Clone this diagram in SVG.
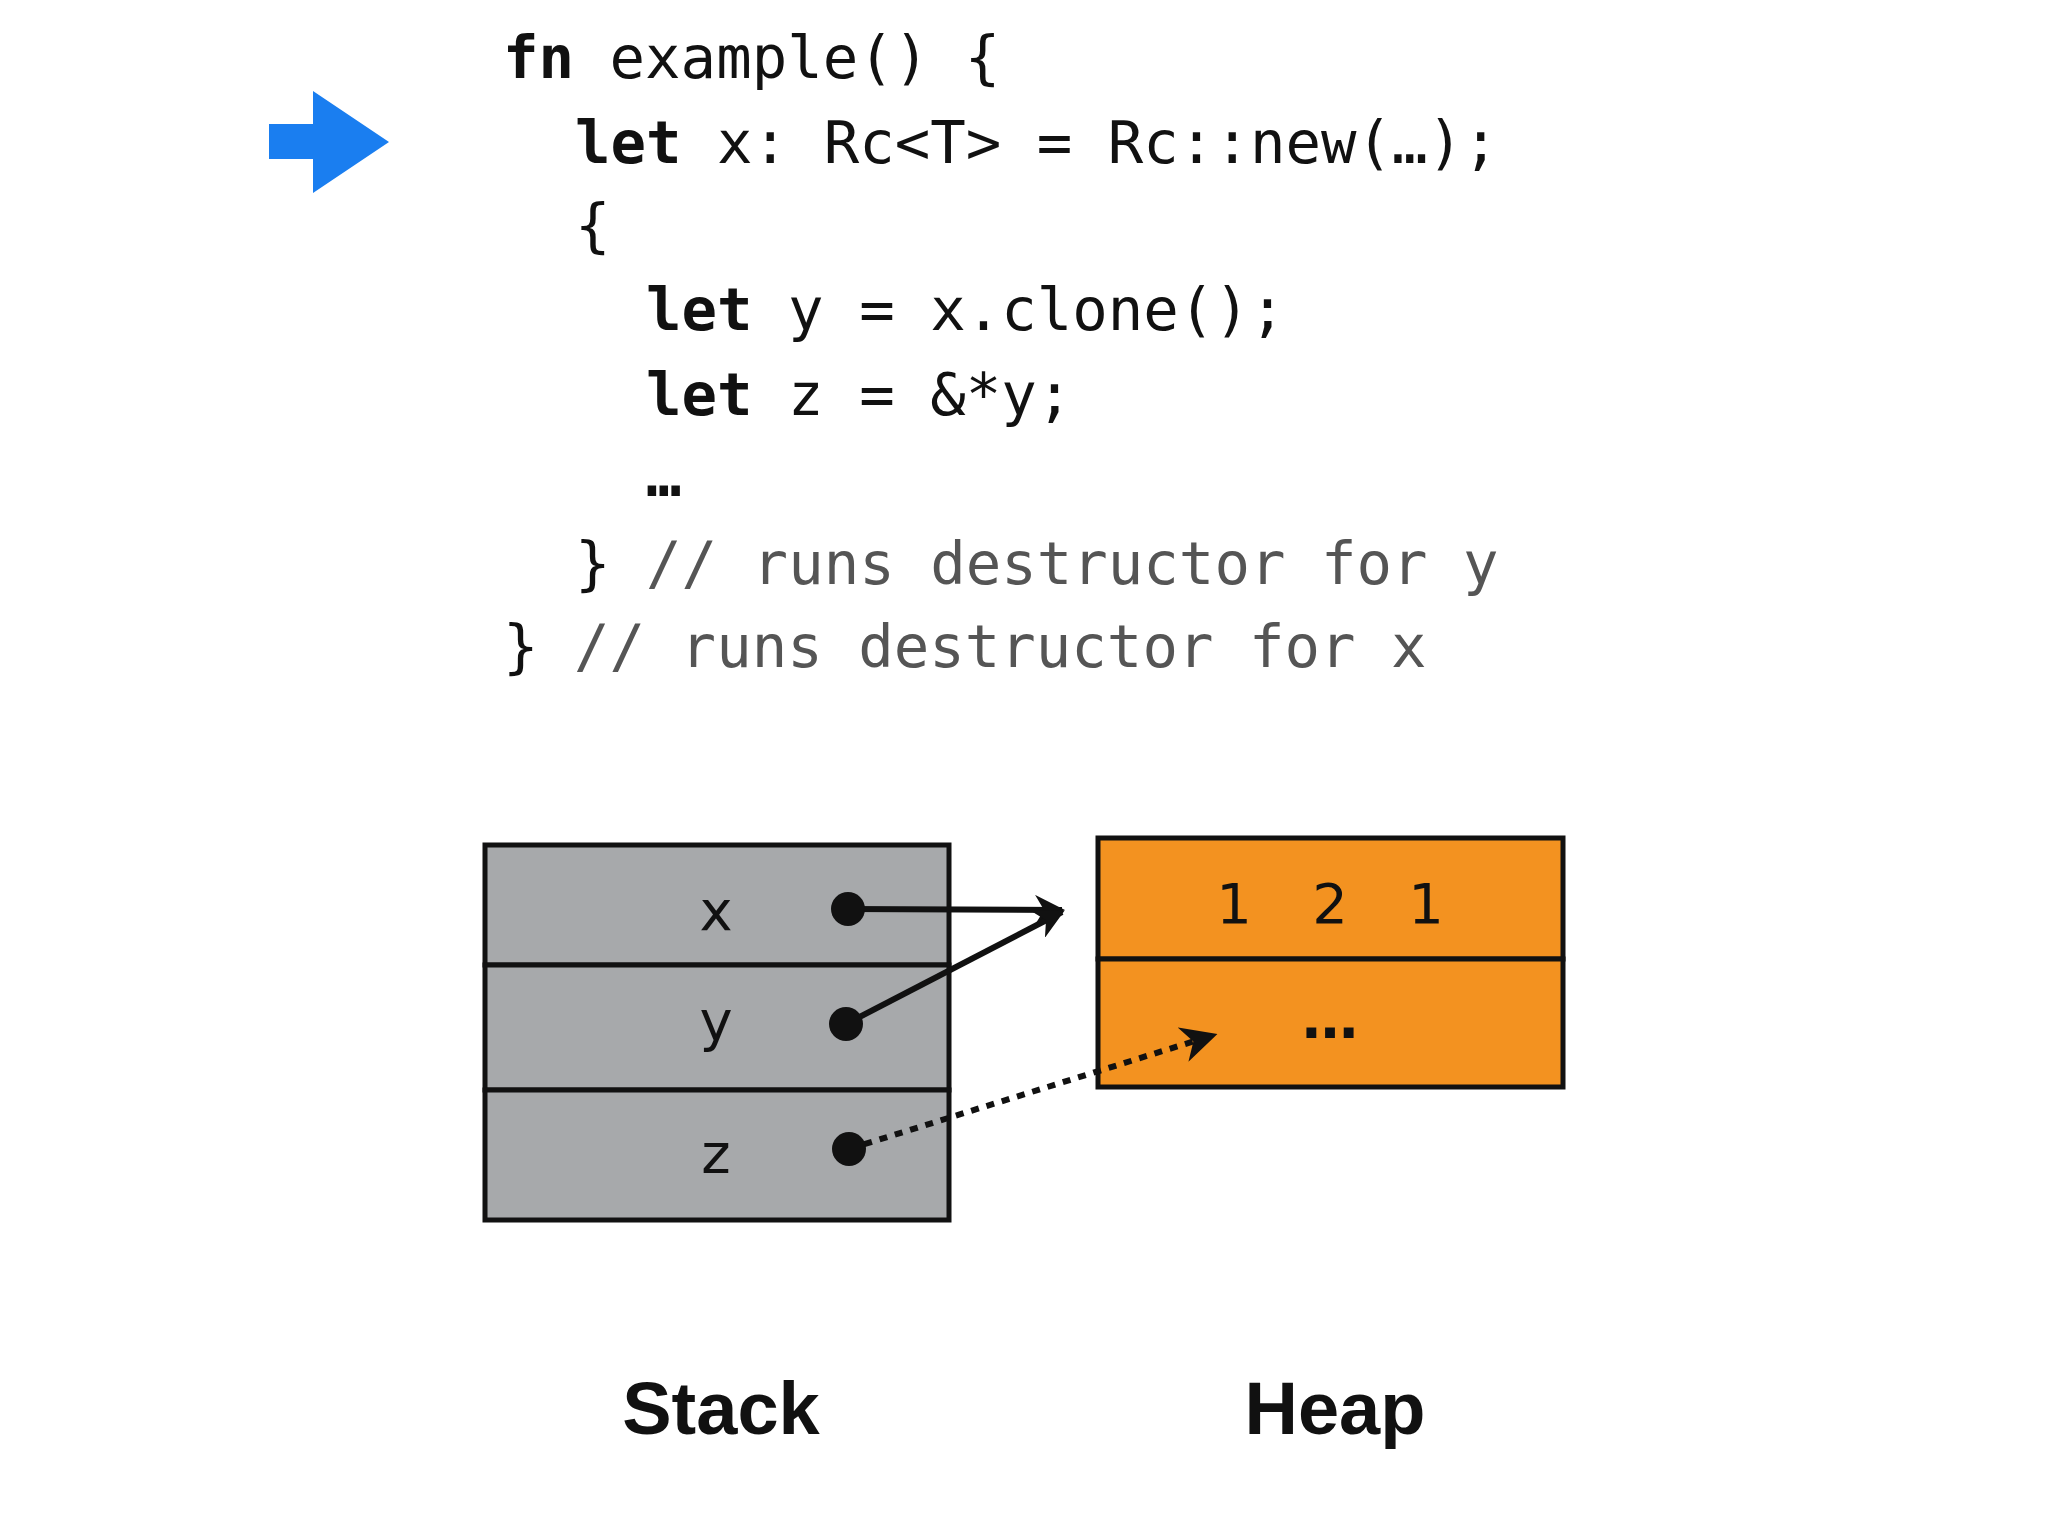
<svg xmlns="http://www.w3.org/2000/svg" width="2048" height="1536" viewBox="0 0 2048 1536">
<defs>
<style>
.code{font-family:"DejaVu Sans Mono",monospace;font-size:59px;fill:#111}
.kw{font-weight:bold}
.cm{fill:#555}
.lbl{font-family:"DejaVu Sans",sans-serif;font-size:56px;fill:#111;text-anchor:middle}
.ttl{font-family:"Liberation Sans",Arial,sans-serif;font-size:74px;font-weight:bold;text-anchor:middle;fill:#111}
.cell{stroke:#111;stroke-width:5}
</style>
<marker id="ah" viewBox="0 0 10 10" refX="9" refY="5" markerWidth="5" markerHeight="5" markerUnits="strokeWidth" orient="auto"><path d="M0,0 L10,5 L0,10 L3,5 Z" fill="#111"/></marker>
<marker id="ah2" viewBox="0 0 10 10" refX="9" refY="5" markerWidth="6" markerHeight="6" markerUnits="strokeWidth" orient="auto"><path d="M0,0 L10,5 L0,10 L3,5 Z" fill="#111"/></marker>
</defs>
<rect width="2048" height="1536" fill="#fff"/>
<g id="pointer"><path d="M269,124 H313 V91 L389,142 L313,193 V159 H269 Z" fill="#1a7ef0"/></g>
<g id="code">
<text class="code" x="503" y="78"><tspan class="kw">fn</tspan> example() {</text>
<text class="code" x="575" y="163"><tspan class="kw">let</tspan> x: Rc&lt;T&gt; = Rc::new(…);</text>
<text class="code" x="575" y="246">{</text>
<text class="code" x="646" y="330"><tspan class="kw">let</tspan> y = x.clone();</text>
<text class="code" x="646" y="415"><tspan class="kw">let</tspan> z = &amp;*y;</text>
<text class="code kw" x="646" y="496">…</text>
<text class="code" x="575" y="584">} <tspan class="cm">// runs destructor for y</tspan></text>
<text class="code" x="503" y="667">} <tspan class="cm">// runs destructor for x</tspan></text>
</g>
<g id="stack">
<rect class="cell" x="485" y="845" width="464" height="120" fill="#a7a9ab"/>
<rect class="cell" x="485" y="965" width="464" height="125" fill="#a7a9ab"/>
<rect class="cell" x="485" y="1090" width="464" height="130" fill="#a7a9ab"/>
<text class="lbl" x="716" y="930">x</text>
<text class="lbl" x="716" y="1040">y</text>
<text class="lbl" x="716" y="1173">z</text>
</g>
<g id="heap">
<rect class="cell" x="1098" y="838" width="465" height="121" fill="#f39220"/>
<rect class="cell" x="1098" y="959" width="465" height="128" fill="#f39220"/>
<text class="lbl" x="1234" y="923">1</text>
<text class="lbl" x="1330" y="923">2</text>
<text class="lbl" x="1426" y="923">1</text>
<text class="lbl" x="1330" y="1038" font-weight="bold">…</text>
</g>
<g id="connectors" stroke="#111" fill="none">
<line x1="848" y1="909" x2="1062" y2="910" stroke-width="6" marker-end="url(#ah)"/>
<line x1="846" y1="1024" x2="1062" y2="912" stroke-width="6" marker-end="url(#ah)"/>
<line x1="849" y1="1149" x2="1214" y2="1035" stroke-width="6" stroke-dasharray="8 8" marker-end="url(#ah2)"/>
<circle cx="848" cy="909" r="17" fill="#111" stroke="none"/>
<circle cx="846" cy="1024" r="17" fill="#111" stroke="none"/>
<circle cx="849" cy="1149" r="17" fill="#111" stroke="none"/>
</g>
<g id="titles">
<text class="ttl" x="721" y="1434">Stack</text>
<text class="ttl" x="1335" y="1434">Heap</text>
</g>
</svg>
